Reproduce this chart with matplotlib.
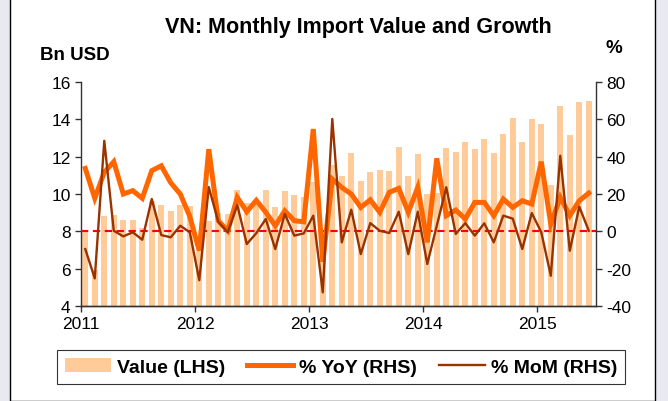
import matplotlib.pyplot as plt
import numpy as np
from matplotlib.patches import Patch, Rectangle
from matplotlib.lines import Line2D

plt.rcParams['font.family'] = ['Liberation Sans', 'DejaVu Sans']
plt.rcParams['axes.unicode_minus'] = False

# Monthly data, Jan 2011 - Jun 2015
value = [7.95, 5.95, 8.84, 8.90, 8.62, 8.62, 8.20, 9.62, 9.41, 9.10, 9.41, 9.34,
         6.91, 8.57, 9.00, 8.93, 10.20, 9.50, 9.55, 10.23, 9.32, 10.14, 9.95, 9.86,
         10.66, 7.17, 11.55, 10.95, 12.20, 10.71, 11.20, 11.30, 11.25, 12.50, 10.95, 12.14,
         10.00, 10.05, 12.46, 12.23, 12.77, 12.41, 12.94, 12.18, 13.20, 14.05, 12.80, 14.00,
         13.75, 10.48, 14.73, 13.16, 14.91, 14.98]
yoy = [33.7, 17.7, 31.6, 37.3, 20.0, 21.8, 17.7, 32.5, 35.1, 26.0, 20.0, 8.0,
       -10.5, 44.0, 5.7, 0.3, 18.2, 10.5, 16.6, 10.2, 3.0, 11.0, 5.7, 5.1,
       54.8, -16.3, 28.0, 23.5, 20.0, 12.8, 16.9, 10.2, 20.9, 23.0, 10.2, 23.6,
       -5.9, 39.1, 8.4, 11.4, 6.6, 15.5, 15.5, 8.4, 17.3, 12.8, 16.4, 14.6,
       37.3, 3.9, 18.2, 8.4, 16.4, 20.5]
mom = [-9.5, -25.2, 48.5, 0.3, -2.7, -0.5, -4.5, 17.3, -2.0, -3.2, 3.0, -0.5,
       -26.2, 23.7, 5.1, -0.5, 14.1, -6.8, -1.0, 6.6, -9.5, 9.3, -2.3, -1.1,
       8.4, -32.7, 60.2, -5.9, 11.6, -12.2, 4.4, 0.3, -0.9, 10.5, -12.2, 10.5,
       -17.5, 3.0, 23.6, -1.4, 4.4, -2.3, 4.3, -5.9, 8.4, 6.8, -9.5, 9.8,
       -0.5, -23.8, 40.5, -10.4, 13.2, 0.3]
years = ['2011', '2012', '2013', '2014', '2015']

x = np.arange(len(value))

fig = plt.figure(figsize=(6.68, 4.02), dpi=100)
fig.patch.set_facecolor('#E9E9F1')
fig.patches.append(Rectangle((10 / 668, 0), 645 / 668, 1.01, transform=fig.transFigure,
                             facecolor='white', edgecolor='black', linewidth=1.0, zorder=-1))

ax = fig.add_axes([81 / 668, 95 / 402, 515 / 668, 224 / 402])
ax.set_facecolor('none')
ax.bar(x, value, width=0.63, color='#FFCC99', zorder=1)
ax.set_ylim(4, 16)
ax.set_yticks(range(4, 17, 2))
ax.set_xlim(-0.45, 53.76)
ax.set_xticks([-0.45 + 12 * k for k in range(5)])
ax.set_xticklabels(years)

ax2 = ax.twinx()
ax2.axhline(0, color='#FF0000', linestyle=(0, (3.5, 2.2)), linewidth=1.5, zorder=2)
ax2.plot(x, yoy, color='#FF6600', linewidth=3.6, zorder=3, solid_joinstyle='miter')
ax2.plot(x, mom, color='#993300', linewidth=1.7, zorder=4)
ax2.set_ylim(-40, 80)
ax2.set_yticks(range(-40, 81, 20))

for a in (ax, ax2):
    a.spines['top'].set_visible(False)
    for s in a.spines.values():
        s.set_color('#333333')
        s.set_linewidth(1.0)
    a.tick_params(labelsize=12.5, length=4, width=1, colors='#333333', labelcolor='black')
ax2.spines['left'].set_visible(False)
ax.spines['right'].set_visible(False)

fig.text(358 / 668, 1 - 28 / 402, 'VN: Monthly Import Value and Growth', ha='center', va='center',
         fontsize=15.5, fontweight='bold')
fig.text(40 / 668, 1 - 56 / 402, 'Bn USD', ha='left', va='center', fontsize=13.5, fontweight='bold')
fig.text(605 / 668, 1 - 49 / 402, '%', ha='left', va='center', fontsize=13.5, fontweight='bold')

handles = [Patch(facecolor='#FFCC99', edgecolor='none'),
           Line2D([], [], color='#FF6600', linewidth=3.6),
           Line2D([], [], color='#993300', linewidth=1.7)]
labels = ['Value (LHS)', '% YoY (RHS)', '% MoM (RHS)']
leg = fig.legend(handles, labels, loc='center', bbox_to_anchor=(341 / 668, 1 - 368 / 402), ncol=3,
                 frameon=True, fancybox=False, edgecolor='black', handlelength=2.4, columnspacing=1.1,
                 handletextpad=0.3, prop={'weight': 'bold', 'size': 14}, borderpad=0.4,
                 borderaxespad=0)
leg.get_frame().set_linewidth(0.8)

fig.savefig('out.png', dpi=100, facecolor=fig.get_facecolor())
